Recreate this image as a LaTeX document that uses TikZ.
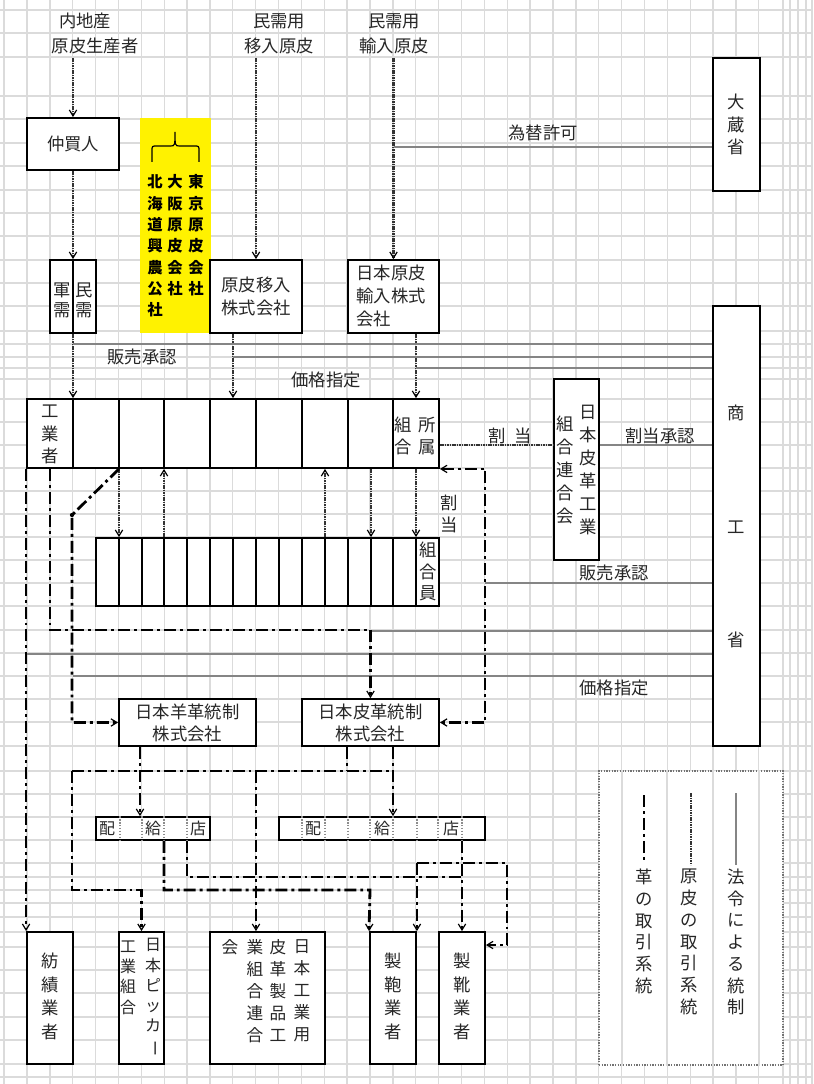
\documentclass[tikz,border=0pt]{standalone}
\usepackage{fontspec}
\usepackage{graphicx}
\setmainfont{Noto Sans CJK JP}
\usetikzlibrary{arrows.meta,fit}
\tikzset{
  gridline/.style={draw=black!14, line width=1pt},
  box/.style={draw, line width=1.4pt, fill=white, inner sep=0pt},
  txt/.style={inner sep=0pt, text=black!85, align=center, font=\fontsize{13}{17.25}\selectfont},
  genpi/.style={draw=black!80, line width=2pt, dash pattern=on 1.2pt off 0.6pt},
  kawa/.style={draw=black, line width=2.1pt, dash pattern=on 9pt off 3pt on 2.2pt off 3pt},
  houre/.style={draw=black!48, line width=1.6pt},
  divg/.style={draw=black!45, line width=1.2pt, densely dotted},
  >={Straight Barb[length=4.5pt,width=5.5pt,line width=0.9pt,color=black]},
}
\begin{document}
\begin{tikzpicture}[x=0.75pt,y=-0.75pt]
\useasboundingbox (0,0) rectangle (813,1084);
% grid
\foreach \k in {0,...,33} \draw[gridline] ({4.1+22.87*\k},0) -- ++(0,1084);
\foreach \gx in {783,790,798,806,812} \draw[gridline] (\gx,0) -- ++(0,1084);
\foreach \gy in {10,33,57,96,119,143,166,190,213,236,260,283,306,331,344,357,368,379,399,422,445,468,491,514,537,560,583,606,630,653,676,699,722,746,771,794,817,840,863,877,890,903,917,932,947,970,993,1017,1040,1064,1077}
  \draw[gridline] (0,\gy) -- ++(813,0);

% sources
\node[txt] (naichiA) at (85,21) {内地産};
\node[txt] (naichiB) at (95,46) {原皮生産者};
\node[txt] (iminyuA) at (279,21) {民需用};
\node[txt] (iminyuB) at (279,46) {移入原皮};
\node[txt] (yunyuA) at (394,21) {民需用};
\node[txt] (yunyuB) at (394,46) {輸入原皮};

% upper boxes
\node[box, fit={(27,118) (119,170)}] (buyer) {};
\node[txt] at (buyer.center) {仲買人};
\node[box, fit={(50,260) (96,333)}] (jumin) {};
\draw[line width=1.4pt] (jumin.north) -- (jumin.south);
\node[txt, font=\fontsize{13}{15}\selectfont] at (62,300) {軍\\需};
\node[txt, font=\fontsize{13}{15}\selectfont] at (84,300) {民\\需};
\node[fill=yellow, inner sep=0pt, fit={(140,118) (211,333)}] (kaisha) {};
\draw[line width=0.9pt] (152,162) -- (152,151) .. controls (152,146) .. (157,146) -- (170,146)
  .. controls (175,146) .. (175,132) .. controls (175,146) .. (180,146) -- (194,146)
  .. controls (199,146) .. (199,151) -- (199,162);
\node[txt, text=black, font=\bfseries\fontsize{11.5}{16}\selectfont] at (155,246) {北\\海\\道\\興\\農\\公\\社};
\node[txt, text=black, font=\bfseries\fontsize{11.5}{16}\selectfont] at (175,235.5) {大\\阪\\原\\皮\\会\\社};
\node[txt, text=black, font=\bfseries\fontsize{11.5}{16}\selectfont] at (196,235.5) {東\\京\\原\\皮\\会\\社};
\node[box, fit={(210,260) (302,333)}] (inyu) {};
\node[txt] at (inyu.center) {原皮移入\\株式会社};
\node[box, fit={(348,260) (439,333)}] (yunyu) {};
\node[txt, align=left] at (391,295.5) {日本原皮\\輸入株式\\会社};
\node[box, fit={(713,58) (760,191)}] (okura) {};
\node[txt, font=\fontsize{13}{16.9}\selectfont] at (736,124.5) {大\\蔵\\省};
\node[box, fit={(713,306) (760,746)}] (shoko) {};
\node[txt] at (736,413) {商};
\node[txt] at (736,527) {工};
\node[txt] at (736,640) {省};

% makers and members
\node[box, fit={(27,399) (439,468)}] (kogyo) {};
\foreach \x in {73,119,164,210,256,302,348,393}
  \draw[line width=1.4pt] (kogyo.north -| \x,0) -- (kogyo.south -| \x,0);
\node[txt, font=\fontsize{13}{16.8}\selectfont] at (50,434.5) {工\\業\\者};
\node[txt, font=\fontsize{13}{16.5}\selectfont] at (403,436) {組\\合};
\node[txt, font=\fontsize{13}{16.5}\selectfont] at (427,436) {所\\属};
\node[box, fit={(554,379) (599,560)}] (rengo) {};
\node[txt] at (588,469.5) {日\\本\\皮\\革\\工\\業};
\node[txt] at (565,470) {組\\合\\連\\合\\会};
\node[box, fit={(96,538) (439,606)}] (kumiai) {};
\foreach \x in {119,142,164,187,210,233,256,279,302,325,348,371,393,416}
  \draw[line width=1.4pt] (kumiai.north -| \x,0) -- (kumiai.south -| \x,0);
\node[txt, font=\fontsize{13}{16.2}\selectfont] at (428,571.5) {組\\合\\員};

% control companies
\node[box, fit={(119,699) (256,746)}] (yokaku) {};
\node[txt, font=\fontsize{13}{16.5}\selectfont] at (yokaku.center) {日本羊革統制\\株式会社};
\node[box, fit={(302,699) (439,746)}] (hikaku) {};
\node[txt, font=\fontsize{13}{16.5}\selectfont] at (hikaku.center) {日本皮革統制\\株式会社};
\node[box, fit={(96,817) (210,840)}] (haiL) {};
\foreach \x in {120,142,164,187} \draw[divg] (haiL.north -| \x,0) -- (haiL.south -| \x,0);
\node[txt, font=\fontsize{12}{14}\selectfont] at (107,828.5) {配};
\node[txt, font=\fontsize{12}{14}\selectfont] at (153,828.5) {給};
\node[txt, font=\fontsize{12}{14}\selectfont] at (198,828.5) {店};
\node[box, fit={(279,817) (485,840)}] (haiR) {};
\foreach \x in {302,325,348,370,393,417,438,462} \draw[divg] (haiR.north -| \x,0) -- (haiR.south -| \x,0);
\node[txt, font=\fontsize{12}{14}\selectfont] at (313,828.5) {配};
\node[txt, font=\fontsize{12}{14}\selectfont] at (382,828.5) {給};
\node[txt, font=\fontsize{12}{14}\selectfont] at (451,828.5) {店};

% users
\node[box, fit={(27,932) (73,1064)}] (boseki) {};
\node[txt, font=\fontsize{13}{17.7}\selectfont] at (50,996.5) {紡\\績\\業\\者};
\node[box, fit={(119,932) (164,1064)}] (picker) {};
\node[txt, font=\fontsize{12}{15.2}\selectfont] at (153,997.5) {日\\本\\ピ\\ッ\\カ\\\rotatebox[origin=c]{-90}{ー}};
\node[txt, font=\fontsize{12}{15.2}\selectfont] at (128,977.5) {工\\業\\組\\合};
\node[box, fit={(210,932) (325,1064)}] (kogyoyo) {};
\node[txt, font=\fontsize{12.5}{16.5}\selectfont] at (302,991) {日\\本\\工\\業\\用};
\node[txt, font=\fontsize{12.5}{16.5}\selectfont] at (278,991) {皮\\革\\製\\品\\工};
\node[txt, font=\fontsize{12.5}{16.5}\selectfont] at (255,991) {業\\組\\合\\連\\合};
\node[txt, font=\fontsize{12.5}{16.5}\selectfont] at (230,947) {会};
\node[box, fit={(370,932) (416,1064)}] (seiho) {};
\node[txt, font=\fontsize{13}{17.7}\selectfont] at (393,996.5) {製\\鞄\\業\\者};
\node[box, fit={(439,932) (485,1064)}] (seika) {};
\node[txt, font=\fontsize{13}{17.7}\selectfont] at (462,996.5) {製\\靴\\業\\者};

% raw hide flow
\draw[genpi,->] (buyer.north |- 0,58) -- (buyer.north);
\draw[genpi,->] (buyer.south) -- (jumin.north);
\draw[genpi,->] (inyu.north |- 0,58) -- (inyu.north);
\draw[genpi,->] (yunyu.north |- 0,58) -- (yunyu.north);
\draw[genpi,->] (jumin.south) -- (kogyo.north -| jumin.south);
\draw[genpi,->] (inyu.south -| 233,0) -- (kogyo.north -| 233,0);
\draw[genpi,->] (yunyu.south -| 416,0) -- (kogyo.north -| 416,0);
\foreach \x in {119,371} \draw[genpi,line width=1.5pt,->] (kogyo.south -| \x,0) -- (kumiai.north -| \x,0);
\foreach \x in {164,325} \draw[genpi,line width=1.5pt,<-] (kogyo.south -| \x,0) -- (kumiai.north -| \x,0);
\draw[genpi,->] (kogyo.south -| 416,0) -- (kumiai.north -| 416,0);
\draw[genpi,line width=1.1pt] (kogyo.east |- 0,445) -- (rengo.west |- 0,445);
\node[txt] at (497,436) {割};
\node[txt] at (523,436) {当};
\node[txt, font=\fontsize{13}{16.5}\selectfont] at (449,514) {割\\当};

% control by law
\draw[houre] (yunyu.north |- 0,147) -- (okura.west |- 0,147);
\node[txt] at (543,133) {為替許可};
\draw[houre] (jumin.south |- 0,344) -- (shoko.west |- 0,344);
\draw[houre] (233,357) -- (shoko.west |- 0,357);
\draw[houre] (416,368) -- (shoko.west |- 0,368);
\node[txt] at (142,357) {販売承認};
\node[txt] at (326,380) {価格指定};
\draw[houre] (rengo.east |- 0,445) -- (shoko.west |- 0,445);
\node[txt] at (660,436) {割当承認};
\draw[houre] (485,583) -- (shoko.west |- 0,583);
\node[txt] at (614,573) {販売承認};
\draw[houre] (371,631) -- (shoko.west |- 0,631);
\draw[houre] (27,654) -- (shoko.west |- 0,654);
\draw[houre] (73,676) -- (shoko.west |- 0,676);
\node[txt] at (614,688) {価格指定};

% leather flow
\draw[kawa,->] (kogyo.south west) -- (boseki.north west);
\draw[kawa,->] (kogyo.south -| 50,0) -- (50,630) -| (hikaku.north);
\draw[kawa,->] (kogyo.south -| 119,0) -- (72,515) |- (yokaku.west);
\fill (72,515) circle (1.6pt);
\draw[kawa,<->] (kogyo.south east) -| (hikaku.east -| 485,0) -- (hikaku.east);
\draw[kawa,->] (yokaku.south -| 140,0) -- (haiL.north -| 140,0);
\draw[kawa] (hikaku.south -| 347,0) -- (347,771);
\draw[kawa,->] (hikaku.south -| 393,0) -- (haiR.north -| 393,0);
\draw[kawa] (72,771) -- (393,771);
\draw[kawa,->] (72,771) -- (72,890) -| (picker.north);
\draw[kawa,->] (256,771) -- (kogyoyo.north -| 256,0);
\draw[kawa,->] (haiL.south -| 164,0) |- (370,890) -- (seiho.north west);
\draw[kawa] (haiL.south -| 187,0) |- (462,877);
\draw[kawa,->] (haiR.south -| 462,0) -- (seika.north);
\draw[kawa,->] (seiho.north east |- 0,863) -- (seiho.north east);
\draw[kawa,->] (seiho.north east |- 0,863) -| (507,945) -- (seika.east |- 0,945);

% legend
\node[draw=black!55, line width=1pt, densely dotted, fill=white, inner sep=0pt, fit={(599,771) (783,1065)}] (legend) {};
\foreach \x in {622,667,713,759} \draw[gridline] (legend.north -| \x,0) -- (legend.south -| \x,0);
\draw[kawa] (644,795) -- (644,863);
\draw[genpi,line width=1.3pt] (691,793) -- (691,865);
\draw[houre,line width=1.2pt] (736,793) -- (736,865);
\node[txt, font=\fontsize{13}{16.3}\selectfont] at (644,931.3) {革\\の\\取\\引\\系\\統};
\node[txt, font=\fontsize{13}{16.3}\selectfont] at (689,942) {原\\皮\\の\\取\\引\\系\\統};
\node[txt, font=\fontsize{13}{16.3}\selectfont] at (736,942) {法\\令\\に\\よ\\る\\統\\制};
\end{tikzpicture}
\end{document}
